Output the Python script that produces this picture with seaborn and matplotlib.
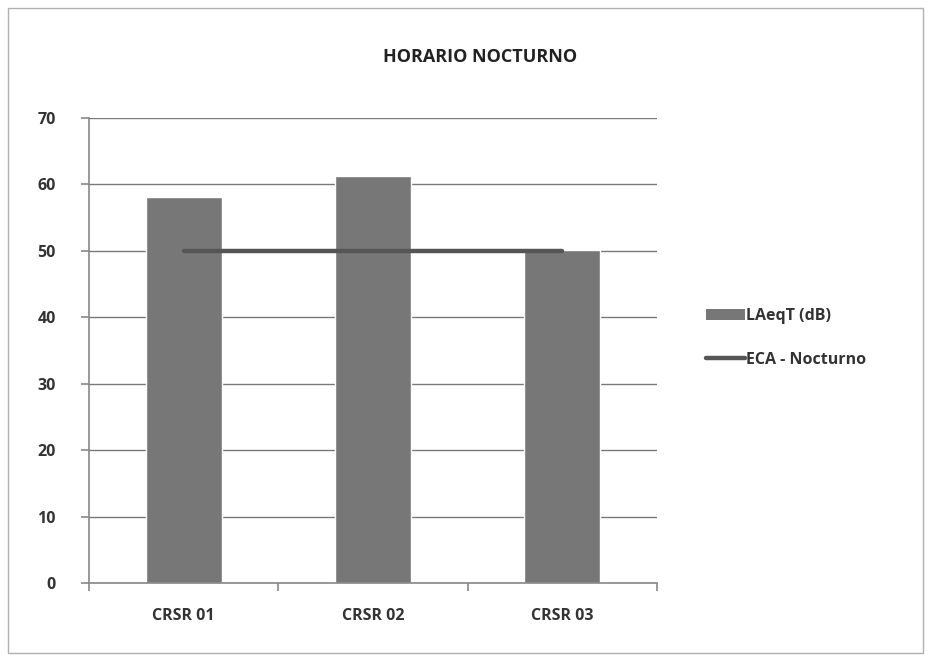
import matplotlib
matplotlib.use("Agg")
import matplotlib.pyplot as plt
import seaborn as sns
import pandas as pd
from matplotlib.patches import Rectangle
from matplotlib.lines import Line2D
from matplotlib.patches import Patch

categories = ["CRSR 01", "CRSR 02", "CRSR 03"]
laeq = [58.1, 61.3, 50.2]
eca = [50, 50, 50]
yticks = [0, 10, 20, 30, 40, 50, 60, 70]

sns.set_theme(style="white")
plt.rcParams['font.family'] = ['Open Sans', 'DejaVu Sans']

df = pd.DataFrame({"cat": categories, "laeq": laeq, "eca": eca})

fig = plt.figure(figsize=(9.31, 6.61), dpi=100)
ax = fig.add_axes([89/931, 1-583/661, (657-89)/931, (583-118)/661])

# outer border
fig.patches.append(Rectangle((8/931, 8/661), 1-16/931, 1-16/661, transform=fig.transFigure,
                             fill=False, edgecolor="#b0b0b0", linewidth=1.0))

sns.barplot(data=df, x="cat", y="laeq", ax=ax, color="#777777", width=0.4,
            saturation=1, zorder=2)
sns.lineplot(data=df, x="cat", y="eca", ax=ax, color="#555555", linewidth=3.2,
             zorder=3, sort=False)

ax.set_ylim(0, 70)
ax.set_xlim(-0.5, 2.5)
ax.set_yticks(yticks)
ax.yaxis.grid(True, color="#7a7a7a", linewidth=1.0, zorder=0)
ax.set_axisbelow(True)
for s in ["top", "right"]:
    ax.spines[s].set_visible(False)
for s in ["left", "bottom"]:
    ax.spines[s].set_color("#888888")
    ax.spines[s].set_linewidth(1.2)

ax.set_xlabel("")
ax.set_ylabel("")
ax.set_xticks([0, 1, 2])
ax.set_xticklabels(categories, fontsize=11.5, fontweight="bold", color="#333333")
ax.set_xticks([-0.5, 0.5, 1.5, 2.5], minor=True)
ax.tick_params(axis="x", which="major", length=0, pad=18)
ax.tick_params(axis="x", which="minor", length=6, color="#888888", width=1.2, direction="out", bottom=True)
ax.tick_params(axis="y", length=6, color="#888888", width=1.2, direction="out", left=True, pad=18)
for lbl in ax.get_yticklabels():
    lbl.set_fontsize(11.5)
    lbl.set_fontweight("bold")
    lbl.set_color("#333333")

fig.text(480/931, 1-57/661, "HORARIO NOCTURNO", ha="center", va="center",
         fontsize=13, fontweight="bold", color="#222222")

handles = [Patch(facecolor="#777777", edgecolor="none"),
           Line2D([0], [0], color="#555555", linewidth=3.2)]
leg = fig.legend(handles, ["LAeqT (dB)", "ECA - Nocturno"], loc="center left",
                 bbox_to_anchor=(692/931, 1-338/661), frameon=False,
                 prop={"weight": "bold", "size": 11.5}, handlelength=2.4,
                 handletextpad=0.05, labelspacing=1.75)
for t in leg.get_texts():
    t.set_color("#333333")

fig.savefig("out.png", dpi=100)
